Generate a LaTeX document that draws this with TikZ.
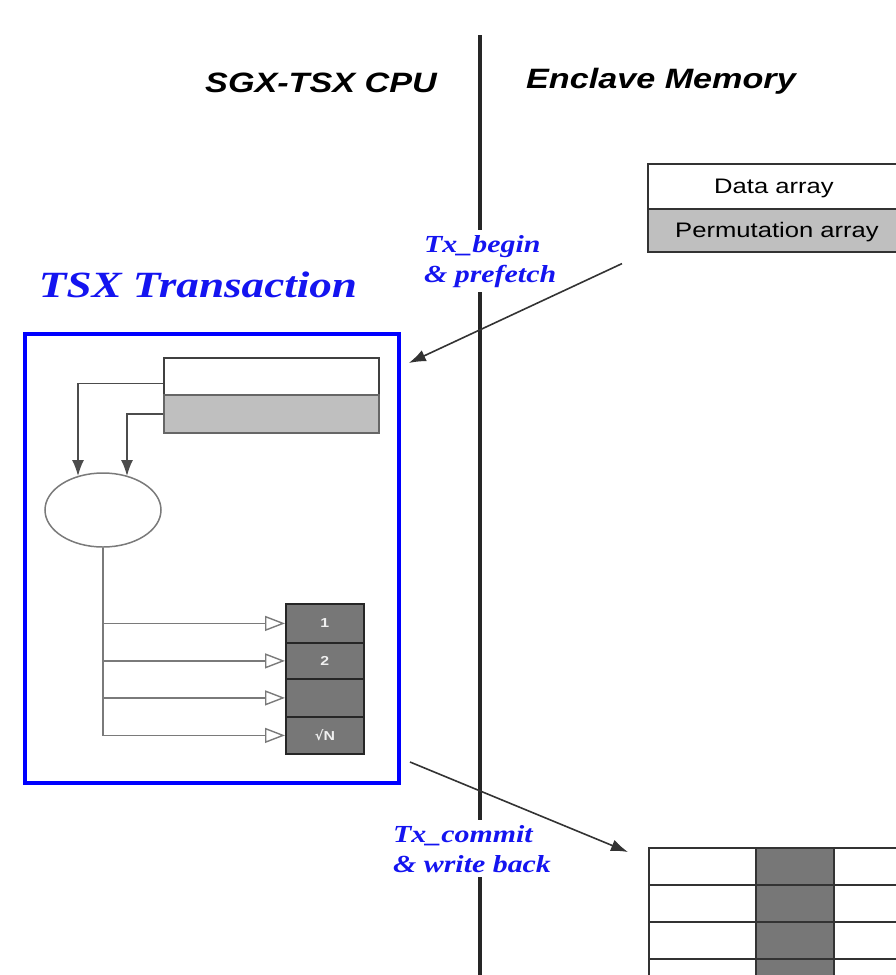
\documentclass[tikz,border=0pt]{standalone}
\usepackage{fontspec}
\usetikzlibrary{arrows.meta,shapes.geometric}
\newfontfamily\hsans[FakeStretch=1.22]{Liberation Sans}
\newfontfamily\hserif[FakeStretch=1.22]{Liberation Serif}
\newfontfamily\dvsans{DejaVu Sans}
\definecolor{lgray}{HTML}{BFBFBF}
\definecolor{dgray}{HTML}{777777}
\definecolor{egray}{HTML}{7A7A7A}
\definecolor{tblue}{HTML}{1414F0}
\begin{document}
\begin{tikzpicture}[x=1pt,y=-1pt,
  divider/.style={line width=3.5pt,black!85},
  hdr/.style={anchor=base,font=\hsans\bfseries\itshape\fontsize{28}{30}\selectfont},
  txlbl/.style={anchor=base west,fill=white,inner xsep=1pt,inner ysep=5pt,text=tblue,
    font=\hserif\bfseries\itshape\fontsize{24.5}{26}\selectfont},
  cell/.style={draw=black!80,line width=1.6pt,anchor=north west,inner sep=0pt,
    font=\hsans\fontsize{21}{22}\selectfont},
  numbox/.style={draw=black!85,line width=1.8pt,fill=dgray,anchor=north west,inner sep=0pt,
    minimum width=78pt,text=white!88!gray,font=\hsans\bfseries\fontsize{13}{13}\selectfont},
  gcell/.style={draw=black!80,line width=1.5pt,anchor=north west,inner sep=0pt,minimum height=37pt},
  arr/.style={-{Latex[length=17pt,width=12pt]},line width=1.6pt,black!80},
  garr/.style={-{Latex[length=16pt,width=12pt]},line width=1.5pt,black!70},
  oarr/.style={-{Triangle[open,length=20pt,width=15pt]},line width=1.4pt,egray}]
\useasboundingbox (0,0) rectangle (896,975);
\clip (0,0) rectangle (896,975);
% divider line
\coordinate (ltop) at (480,35);
\coordinate (lbot) at (480,980);
\draw[divider] (ltop) -- (lbot);
% headers
\node[hdr] (cpu) at (321,92) {SGX-TSX CPU};
\node[hdr] (mem) at (661,88) {Enclave Memory};
% enclave arrays
\node[cell,fill=white,minimum width=256pt,minimum height=45pt] (data) at (647,163) {};
\node[cell,fill=lgray,minimum width=256pt,minimum height=43pt] (perm) at (647,208) {};
\node[anchor=base,font=\hsans\fontsize{21}{22}\selectfont] (datat) at (774,193) {Data array};
\node[anchor=base,font=\hsans\fontsize{21}{22}\selectfont] (permt) at (777,237) {Permutation array};
% TSX transaction
\node[anchor=base,text=tblue,font=\hserif\bfseries\itshape\fontsize{37}{40}\selectfont] (tsxt) at (198,297) {TSX Transaction};
\node[draw=blue,line width=3.8pt,anchor=north west,minimum width=374pt,minimum height=449pt,inner sep=0pt] (tsx) at (23,332) {};
% labels
\node[txlbl] (txb1) at (423,252) {Tx\_begin};
\node[txlbl] (txb2) at (423,282) {\& prefetch};
\node[txlbl] (txc1) at (392,842) {Tx\_commit};
\node[txlbl] (txc2) at (392,872) {\& write back};
% arrows between CPU and memory
\draw[arr] ([xshift=-25pt,yshift=-11pt]perm.south west) -- ([xshift=8pt,yshift=-31pt]tsx.north east);
% inner arrays
\node[cell,fill=white,draw=black!75,minimum width=215pt,minimum height=37pt] (din) at (163,357) {};
\node[cell,fill=lgray,draw=black!60,minimum width=215pt,minimum height=38pt] (pin) at (163,394) {};
\node[ellipse,draw=egray,line width=1.5pt,minimum width=116pt,minimum height=74pt,inner sep=0pt] (ell) at (103,510) {};
\coordinate (e1) at (78,476);
\coordinate (e2) at (127,476);
\draw[garr] ([yshift=-7pt]din.west) -| (e1);
\draw[garr] (pin.west) -| (e2);
% output boxes
\node[numbox,minimum height=39pt] (b1) at (285,603) {1};
\node[numbox,minimum height=36pt] (b2) at (285,642) {2};
\node[numbox,minimum height=38pt] (b3) at (285,678) {};
\node[numbox,minimum height=37pt] (b4) at (285,716) {{\dvsans\fontsize{13}{13}\selectfont √}N};
\draw[oarr] (ell.south) |- (b4.west);
\draw[oarr] (ell.south |- b1.west) -- (b1.west);
\draw[oarr] (ell.south |- b2.west) -- (b2.west);
\draw[oarr] (ell.south |- b3.west) -- (b3.west);
% memory grid
\foreach \i/\yy in {1/847,2/884,3/921,4/958}{
  \node[gcell,minimum width=107pt] (gl\i) at (648,\yy) {};
  \node[gcell,fill=dgray,minimum width=78pt] (gm\i) at (755,\yy) {};
  \node[gcell,minimum width=80pt] (gr\i) at (833,\yy) {};
}
\coordinate (cstart) at (410,762);
\draw[arr] (cstart) -- ([xshift=-20pt,yshift=-5pt]gl1.north west);
\end{tikzpicture}
\end{document}
